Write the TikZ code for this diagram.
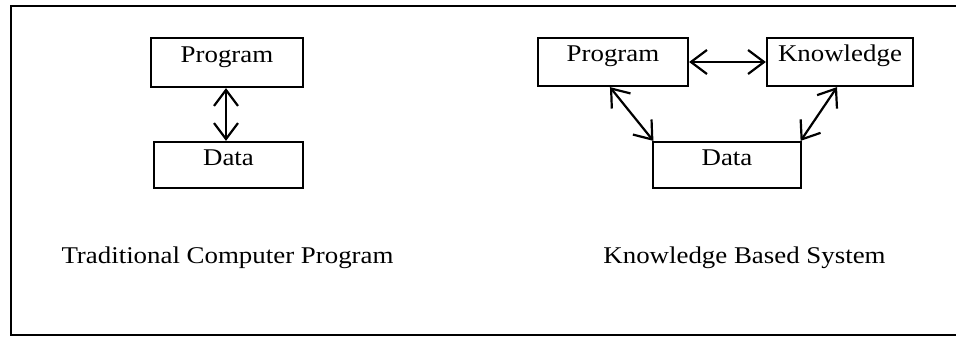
\documentclass[tikz,border=0pt]{standalone}
\usepackage{fontspec}
\setmainfont{Liberation Serif}[FakeStretch=1.12]
\usetikzlibrary{arrows.meta,calc}
\begin{document}
\begin{tikzpicture}[x=1pt,y=-1pt,
  box/.style={draw,line width=2.2pt,inner sep=0pt,text height=9pt,text depth=9pt,font=\fontsize{24}{28}\selectfont},
  link/.style={line width=2.2pt,{Straight Barb[length=16pt,width=24pt,line width=2.2pt]}-{Straight Barb[length=16pt,width=24pt,line width=2.2pt]}},
  caption/.style={inner sep=0pt,anchor=base,font=\fontsize{24}{28}\selectfont}]
\useasboundingbox (0,0) rectangle (956,337);
\draw[line width=2.2pt] (956,6) -- (11,6) -- (11,335) -- (956,335);
% left diagram
\node[box,minimum width=152pt,minimum height=49pt] (p1) at (227,62.5) {Program};
\node[box,minimum width=149pt,minimum height=46pt] (d1) at (228.5,165) {Data};
\draw[link] ([xshift=-1pt]p1.south) -- ([xshift=-1pt]p1.south |- d1.north);
\node[caption] (c1) at (227.5,263) {Traditional Computer Program};
% right diagram
\node[box,minimum width=150pt,minimum height=48pt] (p2) at (613,62) {Program};
\node[box,minimum width=146pt,minimum height=48pt] (k) at (840,62) {Knowledge};
\node[box,minimum width=148pt,minimum height=46pt] (d2) at (727,165) {Data};
\draw[link] (p2.east) -- (k.west);
\draw[link] ($(p2.south west)!0.48!(p2.south east)$) -- ($(d2.north west)!0.01!(d2.north east)$);
\draw[link] ($(k.south west)!0.48!(k.south east)$) -- ($(d2.north west)!0.99!(d2.north east)$);
\node[caption] (c2) at (744.5,263) {Knowledge Based System};
\end{tikzpicture}
\end{document}
